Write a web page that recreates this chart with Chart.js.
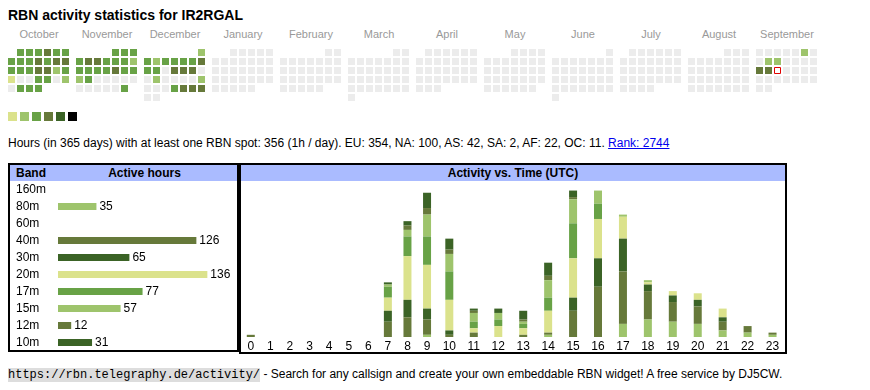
<!DOCTYPE html>
<html>
<head>
<meta charset="utf-8">
<script src="https://cdn.jsdelivr.net/npm/chart.js@4.4.1/dist/chart.umd.min.js"></script>
<style>
body { margin: 0; background: #fff; color: #000; font-family: 'Liberation Sans', Arial, sans-serif; }
.abs { position: absolute; white-space: nowrap; }
#title { left: 8px; top: 7px; font-size: 14px; line-height: 16px; font-weight: bold; }
.month { position: absolute; top: 28px; width: 68px; text-align: center; font-size: 11px; line-height: 13px; color: #999; }
.legsq { position: absolute; top: 112px; width: 9px; height: 9px; }
#stats { left: 8px; top: 136px; font-size: 12px; line-height: 14px; }
#stats a { color: #00e; }
.box { position: absolute; border: 2px solid #000; box-sizing: border-box; pointer-events: none; }
.hdr { position: absolute; background: #aabbff; height: 16px; font-size: 12px; line-height: 16px; font-weight: bold; }
.wrap { position: absolute; }
#footer { left: 8px; top: 367px; font-size: 12px; line-height: 14px; }
#footer code { font-family: 'Liberation Mono', monospace; font-size: 12px; background: #ddd; }
</style>
</head>
<body>
<div id="title" class="abs">RBN activity statistics for IR2RGAL</div>
<div id="months"></div>
<div id="legend"></div>
<div class="wrap" style="left:7px;top:48px;width:811px;height:54px"><canvas id="cal"></canvas></div>

<div id="stats" class="abs">Hours (in 365 days) with at least one RBN spot: 356 (1h / day). EU: 354, NA: 100, AS: 42, SA: 2, AF: 22, OC: 11. <a href="#">Rank: 2744</a></div>

<div class="hdr" style="left:10px;top:165px;width:227px"><span style="position:absolute;left:6px">Band</span><span style="position:absolute;left:0;width:269px;text-align:center">Active hours</span></div>
<div class="wrap" style="left:10px;top:181px;width:227px;height:170px"><canvas id="bands"></canvas></div>
<div class="box" style="left:8px;top:163px;width:231px;height:189px"></div>

<div class="hdr" style="left:241px;top:165px;width:544px;text-align:center">Activity vs. Time (UTC)</div>
<div class="wrap" style="left:241px;top:181px;width:544px;height:171px"><canvas id="hours"></canvas></div>
<div class="box" style="left:239px;top:163px;width:548px;height:191px"></div>

<div id="footer" class="abs"><code>https://rbn.telegraphy.de/activity/</code> - Search for any callsign and create your own embeddable RBN widget! A free service by DJ5CW.</div>

<script>
// calendar: months shown, Oct 2024 .. Sep 2025
const monthNames = ['October','November','December','January','February','March','April','May','June','July','August','September'];
const levelColors = ['#dbe28c','#9ec46c','#68a246','#66793a','#3b6326','#000000'];
const emptyColor = '#ececec';

// activity level per day (0 = none)
const octLevels = [3,3,3,4,3,3, 3,3,3,4,3,4,4, 3,3,3,4,4,2,3, 1,0,0,3,3,0,2, 0,3,3,3];
const novLevels = [3,3,3, 3,4,4,3,3,3,2, 3,3,3,3,4,3,3, 2,3,0,0,0,0,0, 0,0,0,0,0,3];
const decLevels = [2, 3,2,3,3,3,3,4, 3,3,0,4,4,4,0, 0,2,0,0,0,0,2, 0,0,0,3,4,4,4, 0,0];
const sepLevels = [0,0,0,0,0,2,0, 0,2,2,0,0,0,0, 4,4,0,0,0,0,0, 0,0,0,0,0,0,0, 0,0];
const todayDate = '2025-09-17';

// band table
const bands = ['160m','80m','60m','40m','30m','20m','17m','15m','12m','10m'];
const bandHours = [0,35,0,126,65,136,77,57,12,31];
const bandColors = ['#dbe28c','#9ec46c','#68a246','#66793a','#3b6326','#dbe28c','#68a246','#9ec46c','#66793a','#3b6326'];

// activity vs time (UTC), hours per band per hour of day
const hourLabels = ['0','1','2','3','4','5','6','7','8','9','10','11','12','13','14','15','16','17','18','19','20','21','22','23'];
const h160 = [0,0,0,0,0,0,0,0,0,0,0,0,0,0,0,0,0,0,0,0,0,0,0,0];
const h80  = [0,0,0,0,0,0,0,0,0,1,0,0,0,0,1,0,0,6,8,7,6,3,2,1];
const h60  = [0,0,0,0,0,0,0,0,0,0,0,0,0,0,0,0,0,0,0,0,0,0,0,0];
const h40  = [1,0,0,0,0,0,0,7,9,7,1,2,0,1,1,12,23,24,13,9,8,4,3,1];
const h30  = [0,0,0,0,0,0,0,5,8,5,2,0,0,0,0,6,13,15,3,3,3,2,0,0];
const h20  = [0,0,0,0,0,0,0,6,20,20,14,2,5,3,10,18,18,10,1,2,3,4,0,0];
const h17  = [0,0,0,0,0,0,0,5,9,13,13,3,3,2,6,16,7,0,0,0,0,0,0,0];
const h15  = [0,0,0,0,0,0,0,1,3,10,8,4,3,1,8,11,6,1,1,0,0,0,0,0];
const h12  = [0,0,0,0,0,0,0,0,2,3,2,1,0,1,2,1,0,0,0,0,0,0,0,0];
const h10  = [0,0,0,0,0,0,0,1,2,7,5,1,2,4,6,3,0,0,0,0,0,0,0,0];
const hourSeries = [h160,h80,h60,h40,h30,h20,h17,h15,h12,h10];

Chart.defaults.font.family = "'Liberation Sans', Arial, sans-serif";
Chart.defaults.color = '#000';

// month labels + legend
monthNames.forEach((m, i) => {
  const d = document.createElement('div');
  d.className = 'month'; d.style.left = (5 + i * 68) + 'px'; d.textContent = m;
  document.getElementById('months').appendChild(d);
});
levelColors.forEach((c, i) => {
  const d = document.createElement('div');
  d.className = 'legsq'; d.style.left = (8 + i * 12) + 'px'; d.style.background = c;
  document.getElementById('legend').appendChild(d);
});

// calendar heatmap as a scatter of square points
const MONTH_PITCH = 68 / 9;   // month block spacing in cell units
const monthLevels = [octLevels, novLevels, decLevels, null, null, null, null, null, null, null, null, sepLevels];
const calPts = [], calFill = [], calBorder = [], calBw = [], calRad = [];
monthNames.forEach((_, m) => {
  const year = 2024 + Math.floor((9 + m) / 12), mon = (9 + m) % 12;
  const first = (new Date(year, mon, 1).getDay() + 6) % 7;
  const days = new Date(year, mon + 1, 0).getDate();
  for (let d = 1; d <= days; d++) {
    const dow = (first + d - 1) % 7, row = Math.floor((first + d - 1) / 7);
    const lv = monthLevels[m] ? monthLevels[m][d - 1] : 0;
    const key = year + '-' + String(mon + 1).padStart(2, '0') + '-' + String(d).padStart(2, '0');
    const today = key === todayDate;
    calPts.push({ x: m * MONTH_PITCH + dow, y: row });
    calFill.push(today ? '#fff' : (lv ? levelColors[lv - 1] : emptyColor));
    calBorder.push(today ? '#e00000' : 'rgba(0,0,0,0)');
    calBw.push(today ? 1 : 0);
    calRad.push(today ? 6 / 2 / Math.SQRT1_2 : 7 / 2 / Math.SQRT1_2);
  }
});

new Chart(document.getElementById('cal'), {
  type: 'scatter',
  data: { datasets: [{ data: calPts, pointStyle: 'rect', pointRadius: calRad,
    pointBackgroundColor: calFill, pointBorderColor: calBorder, pointBorderWidth: calBw }] },
  options: {
    responsive: true, maintainAspectRatio: false, animation: false, events: [],
    layout: { padding: 0, autoPadding: false },
    plugins: { legend: { display: false }, tooltip: { enabled: false } },
    scales: {
      x: { type: 'linear', display: false, min: -0.5, max: 11 * MONTH_PITCH + 6.5 },
      y: { type: 'linear', display: false, min: -0.5, max: 5.5, reverse: true }
    }
  }
});

// band table bars
const valueLabels = {
  id: 'valueLabels',
  afterDatasetsDraw(chart) {
    const ctx = chart.ctx;
    ctx.save();
    ctx.font = "12px 'Liberation Sans', Arial, sans-serif";
    ctx.fillStyle = '#000'; ctx.textBaseline = 'middle'; ctx.textAlign = 'left';
    chart.getDatasetMeta(0).data.forEach((bar, i) => {
      const v = bandHours[i];
      if (v) ctx.fillText(String(v), bar.x + 3, bar.y);
    });
    ctx.restore();
  }
};

new Chart(document.getElementById('bands'), {
  type: 'bar',
  data: { labels: bands, datasets: [{ data: bandHours, backgroundColor: bandColors, barThickness: 7, inflateAmount: 0 }] },
  options: {
    indexAxis: 'y', responsive: true, maintainAspectRatio: false, animation: false, events: [],
    layout: { padding: { left: 6, right: 0, top: 0, bottom: 0 }, autoPadding: false },
    plugins: { legend: { display: false }, tooltip: { enabled: false } },
    scales: {
      x: { display: false, min: 0, max: 163 },
      y: { grid: { display: false, drawTicks: false }, border: { display: false },
           ticks: { autoSkip: false, crossAlign: 'far', padding: 0, font: { size: 12 }, color: '#000' },
           afterFit(s) { s.width = 42; s.paddingTop = 0; s.paddingBottom = 0; } }
    }
  },
  plugins: [valueLabels]
});

// category scale whose columns are as wide as their labels, like a table
const BAR_W = 8;
class TableScale extends Chart.CategoryScale {
  _cols() {
    const key = this.left + ':' + this.right;
    if (this._colKey === key) return this._colPx;
    const ctx = this.ctx;
    ctx.save();
    ctx.font = Chart.helpers.toFont(this.options.ticks.font).string;
    const widths = this.getLabels().map(l => Math.max(ctx.measureText(String(l)).width, BAR_W));
    ctx.restore();
    const pad = (this.right - this.left - widths.reduce((a, b) => a + b, 0)) / widths.length;
    let x = this.left;
    this._colPx = widths.map(w => { const c = x + (w + pad) / 2; x += w + pad; return c; });
    this._colKey = key;
    return this._colPx;
  }
  getPixelForValue(value) {
    if (typeof value !== 'number') value = this.parse(value);
    if (value === null || isNaN(value)) return NaN;
    const c = this._cols()[value];
    return c === undefined ? NaN : c;
  }
}
TableScale.id = 'table';
TableScale.defaults = Chart.CategoryScale.defaults;
Chart.register(TableScale);

new Chart(document.getElementById('hours'), {
  type: 'bar',
  data: {
    labels: hourLabels,
    datasets: hourSeries.map((s, i) => ({ label: bands[i], data: s, backgroundColor: bandColors[i],
      barThickness: BAR_W, inflateAmount: 0 }))
  },
  options: {
    responsive: true, maintainAspectRatio: false, animation: false, events: [],
    layout: { padding: { top: 3, left: 0, right: 0, bottom: 0 }, autoPadding: false },
    plugins: { legend: { display: false }, tooltip: { enabled: false } },
    scales: {
      x: { type: 'table', stacked: true, grid: { display: false, drawTicks: false }, border: { display: false },
           ticks: { autoSkip: false, maxRotation: 0, padding: 2, font: { size: 12 }, color: '#000' },
           afterFit(s) { s.height = 15; s.paddingLeft = 0; s.paddingRight = 0; } },
      y: { display: false, stacked: true, min: 0, max: 70 }
    }
  }
});
</script>
</body>
</html>
